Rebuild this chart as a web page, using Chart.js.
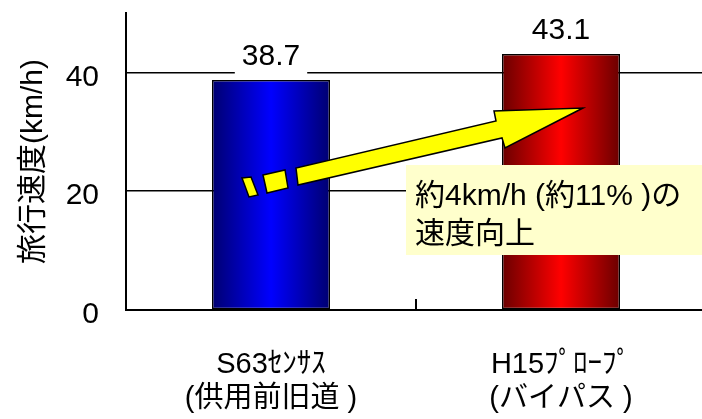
<!DOCTYPE html>
<html>
<head>
<meta charset="utf-8">
<script src="https://cdn.jsdelivr.net/npm/chart.js@4/dist/chart.umd.min.js"></script>
<style>
    html, body { margin: 0; padding: 0; background: #fff; overflow: hidden; }
    #wrap { position: relative; width: 708px; height: 419px; }
</style>
</head>
<body>
<div id="wrap"><canvas id="speed-chart"></canvas></div>
<script>
// Data
const categories = [["S63ｾﾝｻｽ", "(供用前旧道 )"], ["H15ﾌﾟﾛｰﾌﾟ", "(バイパス )"]];
const speeds = [38.7, 43.1];
const yTickValues = [0, 20, 40];
const yMax = 50;
const axisTitle = "旅行速度(km/h)";
const noteLines = ["約4km/h (約11% )の", "速度向上"];

// Bar colours (edge, centre)
const barShades = [["#000070", "#0000ff"], ["#6a0000", "#ff0000"]];
const barFraction = 0.407;
const latinFont = '"Liberation Sans", "Noto Sans CJK JP", sans-serif';

function barGradient(context) {
    const chart = context.chart;
    const i = context.dataIndex;
    const xs = chart.scales.x;
    if (!xs || !chart.chartArea) return barShades[i][1];
    const cx = xs.getPixelForValue(i);
    const w = (xs.width / categories.length) * barFraction;
    const g = chart.ctx.createLinearGradient(cx - w / 2, 0, cx + w / 2, 0);
    g.addColorStop(0, barShades[i][0]);
    g.addColorStop(0.5, barShades[i][1]);
    g.addColorStop(1, barShades[i][0]);
    return g;
}

// Annotation: divider tick, value labels, arrow and note box
const overlay = {
    id: "overlay",
    afterDatasetsDraw(chart) {
        const { ctx, scales: { x, y } } = chart;
        const meta = chart.getDatasetMeta(0);
        ctx.save();

        // inner tick between the two categories
        const mid = (x.getPixelForValue(0) + x.getPixelForValue(1)) / 2;
        ctx.strokeStyle = "#000";
        ctx.lineWidth = 2;
        ctx.beginPath();
        ctx.moveTo(mid, y.bottom);
        ctx.lineTo(mid, y.bottom - 11);
        ctx.stroke();

        // value labels with white backing
        ctx.font = "30px " + latinFont;
        ctx.textAlign = "center";
        ctx.textBaseline = "alphabetic";
        meta.data.forEach((bar, i) => {
            const txt = speeds[i].toFixed(1);
            const base = bar.y - 15;
            const w = ctx.measureText(txt).width;
            ctx.fillStyle = "#fff";
            ctx.fillRect(bar.x - w / 2 - 7, base - 26, w + 14, 36);
            ctx.fillStyle = "#000";
            ctx.fillText(txt, bar.x, base);
        });

        // yellow arrow
        ctx.fillStyle = "#ffff00";
        ctx.strokeStyle = "#000";
        ctx.lineWidth = 1.5;
        ctx.lineJoin = "miter";
        const shapes = [
            [[242, 178], [251, 177], [258, 195], [249, 197]],
            [[263, 175], [285, 170], [288, 188], [267, 193]],
            [[298, 185], [296, 168], [496, 121], [494, 111], [583, 108], [505, 148], [502, 138]]
        ];
        shapes.forEach(pts => {
            ctx.beginPath();
            pts.forEach((p, k) => k ? ctx.lineTo(p[0], p[1]) : ctx.moveTo(p[0], p[1]));
            ctx.closePath();
            ctx.fill();
            ctx.stroke();
        });

        // note box
        ctx.fillStyle = "#ffffcc";
        ctx.fillRect(406, 165, 310, 90);
        ctx.fillStyle = "#000";
        ctx.textAlign = "left";
        ctx.font = "30px " + latinFont;
        ctx.fillText(noteLines[0], 415, 205);
        ctx.fillText(noteLines[1], 415, 243);

        ctx.restore();
    }
};

const chart = new Chart(document.getElementById("speed-chart"), {
    type: "bar",
    data: {
        labels: categories,
        datasets: [{
            data: speeds,
            backgroundColor: barGradient,
            borderColor: "#000",
            borderWidth: 1.5,
            borderSkipped: false,
            barPercentage: barFraction,
            categoryPercentage: 1
        }]
    },
    options: {
        responsive: true,
        maintainAspectRatio: false,
        animation: false,
        events: [],
        layout: { padding: { top: 13, right: 2, bottom: 0, left: 0 } },
        plugins: {
            legend: { display: false },
            tooltip: { enabled: false }
        },
        scales: {
            x: {
                grid: { display: false },
                border: { display: true, color: "#000", width: 2 },
                ticks: {
                    color: "#000",
                    padding: 30,
                    maxRotation: 0,
                    autoSkip: false,
                    font: { family: latinFont, size: 29, lineHeight: 1.17 }
                },
                afterFit: s => { s.height = 109; }
            },
            y: {
                min: 0,
                max: yMax,
                afterBuildTicks: s => {
                    s.ticks = yTickValues.map(v => ({ value: v }));
                },
                grid: { color: "#000", lineWidth: 1.5, drawTicks: false },
                border: { display: true, color: "#000", width: 2 },
                ticks: {
                    color: "#000",
                    padding: 27,
                    labelOffset: 5,
                    font: { family: latinFont, size: 30 }
                },
                title: {
                    display: true,
                    text: axisTitle,
                    color: "#000",
                    padding: { top: 16, bottom: 0 },
                    font: { family: latinFont, size: 30, lineHeight: 1.2 }
                },
                afterFit: s => {
                    s.width = 126;
                    s.paddingTop = 0;
                    s.paddingBottom = 0;
                }
            }
        }
    },
    plugins: [overlay]
});
</script>
</body>
</html>
